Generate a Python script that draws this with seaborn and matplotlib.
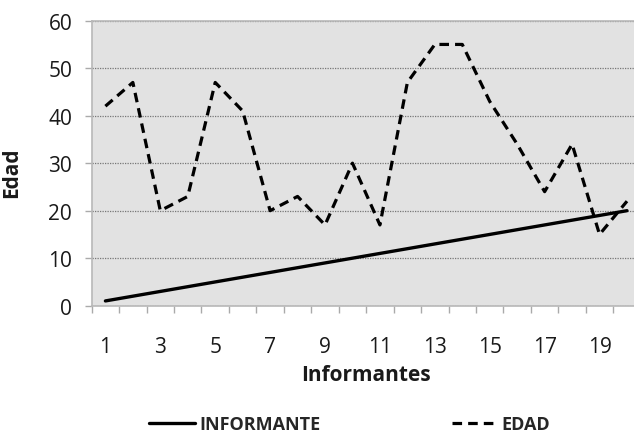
import matplotlib
matplotlib.use("Agg")
import matplotlib.pyplot as plt
import seaborn as sns
import pandas as pd
from matplotlib.lines import Line2D

# ---- data ----
informantes = list(range(1, 21))
informante_vals = list(range(1, 21))
edad_vals = [42, 47, 20, 23, 47, 41, 20, 23, 17, 30, 17, 47, 55, 55, 43, 34, 24, 34, 15, 22]
x_tick_labels = ["1", "3", "5", "7", "9", "11", "13", "15", "17", "19"]
y_ticks = [0, 10, 20, 30, 40, 50, 60]

sns.set_theme(style="white")
plt.rcParams['font.family'] = ['Open Sans', 'DejaVu Sans']

df_inf = pd.DataFrame({"x": informantes, "y": informante_vals})
df_edad = pd.DataFrame({"x": informantes, "y": edad_vals})

fig = plt.figure(figsize=(6.34, 4.39), dpi=100)
ax = fig.add_axes([0.1446, 0.3014, 0.866, 0.6492])
ax.set_facecolor("#e2e2e2")

sns.lineplot(data=df_inf, x="x", y="y", ax=ax, color="black", linewidth=2.4,
             label="INFORMANTE", legend=False)
sns.lineplot(data=df_edad, x="x", y="y", ax=ax, color="black", linewidth=2.3,
             label="EDAD", legend=False, dashes=False)
ax.lines[1].set_dashes((3.0, 1.9))

ax.set_xlim(0.5, 20.5)
ax.set_ylim(0, 60)

# y grid (dotted)
ax.set_yticks(y_ticks)
ax.yaxis.grid(True, linestyle=(0, (1, 1)), color="#777777", linewidth=0.9)
ax.xaxis.grid(False)
ax.set_axisbelow(True)

# x: labels at odd category centres, tick marks at category boundaries
centers = [int(t) for t in x_tick_labels]
ax.set_xticks(centers)
ax.set_xticklabels(x_tick_labels)
ax.set_xticks([i + 0.5 for i in range(0, 21)], minor=True)
ax.tick_params(axis="x", which="major", length=0, pad=22, labelsize=15, labelcolor="#1a1a1a")
ax.tick_params(axis="x", which="minor", length=5, width=1, color="#aaaaaa", direction="out", bottom=True)
ax.tick_params(axis="y", which="major", length=5, width=1, color="#aaaaaa", direction="out",
               left=True, pad=9, labelsize=15, labelcolor="#1a1a1a")

for side in ["top", "left", "bottom"]:
    ax.spines[side].set_visible(True)
    ax.spines[side].set_color("#b8b8b8")
    ax.spines[side].set_linewidth(1.2)
ax.spines["right"].set_visible(False)

ax.set_xlabel("Informantes", fontsize=15, fontweight="bold", color="#1a1a1a", labelpad=5)
ax.set_ylabel("Edad", fontsize=15, fontweight="bold", color="#1a1a1a")
ax.yaxis.set_label_coords(-0.127, 0.47)

handles = [Line2D([], [], color="black", linewidth=2.4),
           Line2D([], [], color="black", linewidth=2.3, dashes=(3.0, 1.9))]
fig.legend(handles, ["INFORMANTE", "EDAD"], loc="center", bbox_to_anchor=(0.552, 0.032),
           ncol=2, frameon=False, handlelength=2.5, handletextpad=0.25, columnspacing=7.3,
           prop={"family": ["Open Sans", "DejaVu Sans"], "weight": "bold", "size": 13})

fig.savefig("out.png", dpi=100)
